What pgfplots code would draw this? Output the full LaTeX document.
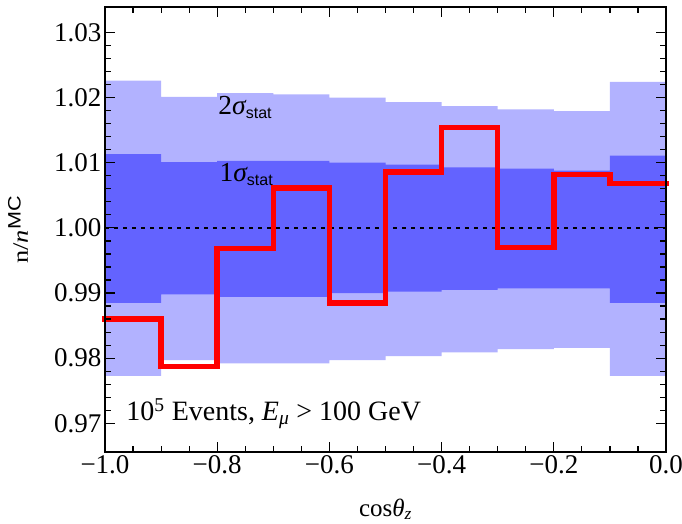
\documentclass[border=0pt]{standalone}
\usepackage{fontspec}
\setmainfont{Liberation Serif}
\newfontfamily\sansf{Liberation Sans}
\usepackage{graphicx}
\usepackage{pgfplots}
\pgfplotsset{compat=1.18}
\usepackage{pgfplotstable}
\usepgfplotslibrary{fillbetween}

\definecolor{lightband}{RGB}{178,178,255}
\definecolor{darkband}{RGB}{99,99,255}

\pgfplotstableread{
x outhi inhi inlo outlo ratio
-1.0 1.0226 1.0113 0.9885 0.9773 0.9860
-0.9 1.0201 1.0101 0.9898 0.9797 0.9787
-0.8 1.0207 1.0103 0.9894 0.9792 0.9968
-0.7 1.0205 1.0103 0.9894 0.9792 1.0061
-0.6 1.0200 1.0100 0.9900 0.9797 0.9885
-0.5 1.0193 1.0097 0.9902 0.9803 1.0086
-0.4 1.0187 1.0093 0.9905 0.9809 1.0154
-0.3 1.0182 1.0091 0.9907 0.9814 0.9970
-0.2 1.0179 1.0088 0.9907 0.9816 1.0082
-0.1 1.0224 1.0111 0.9885 0.9773 1.0068
0.0 1.0224 1.0111 0.9885 0.9773 1.0068
}\bands

\begin{document}
\begin{tikzpicture}
\begin{axis}[
  name=ax,
  at={(0,0)}, anchor=south west,
  scale only axis,
  width=561pt, height=445pt,
  xmin=-1, xmax=0,
  ymin=0.9656, ymax=1.0339,
  axis on top,
  clip=false,
  tick align=inside,
  xtick={-1,-0.8,-0.6,-0.4,-0.2,0},
  xticklabels={−1.0,−0.8,−0.6,−0.4,−0.2,0.0},
  ytick={0.97,0.98,0.99,1.00,1.01,1.02,1.03},
  yticklabels={0.97,0.98,0.99,1.00,1.01,1.02,1.03},
  minor x tick num=3,
  minor y tick num=4,
  major tick length=10pt,
  minor tick length=6pt,
  every tick/.style={black, line width=1.2pt},
  axis line style={line width=1.5pt},
  ticklabel style={font=\fontsize{27}{32}\selectfont},
  xlabel={cos{\itshape θ}\textsubscript{\itshape z}},
  xlabel style={font=\fontsize{25}{30}\selectfont, at={(axis description cs:0.5,0)}, anchor=base, yshift=-64pt},
]
\addplot[name path=ohi, draw=none, const plot, forget plot] table[x=x, y=outhi] {\bands};
\addplot[name path=olo, draw=none, const plot, forget plot] table[x=x, y=outlo] {\bands};
\addplot[name path=ihi, draw=none, const plot, forget plot] table[x=x, y=inhi] {\bands};
\addplot[name path=ilo, draw=none, const plot, forget plot] table[x=x, y=inlo] {\bands};
\addplot[fill=lightband, draw=none] fill between[of=ohi and olo];
\addplot[fill=darkband, draw=none] fill between[of=ihi and ilo];
\addplot[black, line width=1.5pt, dash pattern=on 4pt off 5pt] coordinates {(-1,1) (0,1)};
\addplot[red, line width=5.5pt, const plot, line cap=rect, line join=miter] table[x=x, y=ratio] {\bands};
\node[anchor=base west, font=\fontsize{27.5}{32}\selectfont] at (axis cs:-0.804,1.01735) {2{\itshape σ}\textsubscript{\sansf\fontsize{16}{19}\selectfont stat}};
\node[anchor=base west, font=\fontsize{27.5}{32}\selectfont] at (axis cs:-0.802,1.00714) {1{\itshape σ}\textsubscript{\sansf\fontsize{16}{19}\selectfont stat}};
\node[anchor=base west, font=\fontsize{28}{32}\selectfont] at (axis cs:-0.968,0.97038) {10\textsuperscript{5} Events, {\itshape E}\textsubscript{\itshape μ} > 100 GeV};
\end{axis}
\node[rotate=90, anchor=base, font=\fontsize{22}{26}\selectfont, inner sep=0pt] at (-77pt,222pt) {\scalebox{1.2}[1]{n/{\itshape n}\raisebox{0.33em}{\sansf\fontsize{18}{21}\selectfont MC}}};
\pgfresetboundingbox
\useasboundingbox (-105pt,-71pt) rectangle (577pt,452pt);
\end{tikzpicture}
\end{document}
